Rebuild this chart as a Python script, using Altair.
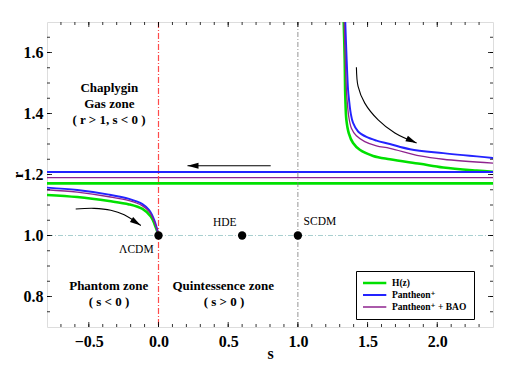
import altair as alt
import pandas as pd
import numpy as np

# ---------------- data ----------------
series_names = ["H(z)", "Pantheon⁺", "Pantheon⁺ + BAO"]
series_colors = ["#00e000", "#2323ff", "#8e238e"]
series_widths = [2.6, 1.3, 1.3]

# right branch (s > 1.3)
hz_right_s = [1.329, 1.336, 1.339, 1.341, 1.348, 1.365, 1.396, 1.444, 1.540, 1.660, 1.876, 2.043, 2.283, 2.406]
hz_right_r = [1.700, 1.576, 1.478, 1.445, 1.379, 1.336, 1.303, 1.281, 1.261, 1.250, 1.235, 1.223, 1.213, 1.209]
pp_right_s = [1.340, 1.350, 1.360, 1.367, 1.379, 1.396, 1.432, 1.492, 1.564, 1.660, 1.804, 2.043, 2.406]
pp_right_r = [1.700, 1.576, 1.478, 1.445, 1.401, 1.369, 1.341, 1.323, 1.311, 1.300, 1.283, 1.270, 1.254]
pb_right_s = [1.332, 1.340, 1.348, 1.353, 1.365, 1.384, 1.420, 1.480, 1.564, 1.660, 1.876, 2.043, 2.406]
pb_right_r = [1.700, 1.576, 1.478, 1.445, 1.390, 1.352, 1.327, 1.308, 1.294, 1.286, 1.261, 1.250, 1.237]

# left branch (s < 0)
hz_left_s = [-0.8, -0.583, -0.355, -0.211, -0.115, -0.055, -0.019, 0.0]
hz_left_r = [1.133, 1.126, 1.113, 1.102, 1.087, 1.062, 1.026, 1.0]
pp_left_s = [-0.8, -0.583, -0.355, -0.211, -0.115, -0.067, -0.031, -0.007, 0.0]
pp_left_r = [1.157, 1.149, 1.134, 1.120, 1.103, 1.083, 1.051, 1.015, 1.0]
pb_left_s = [-0.8, -0.583, -0.355, -0.211, -0.115, -0.067, -0.031, -0.007, 0.0]
pb_left_r = [1.150, 1.142, 1.127, 1.114, 1.097, 1.078, 1.047, 1.013, 1.0]

# constant (horizontal) branches
flat_s = [-0.8, 2.4]
hz_flat_r = 1.171
pp_flat_r = 1.208
pb_flat_r = 1.190

# fixed points
pt_s = [0.0, 0.6, 1.0]
pt_r = [1.0, 1.0, 1.0]
pt_names = ["ΛCDM", "HDE", "SCDM"]
pt_label_s = [-0.159, 0.475, 1.158]
pt_label_r = [0.951, 1.042, 1.043]

# zone annotations
zone_text = ["Chaplygin", "Gas zone", "( r > 1, s < 0 )", "Phantom zone", "( s < 0 )",
             "Quintessence zone", "( s > 0 )"]
zone_s = [-0.353, -0.353, -0.355, -0.357, -0.355, 0.464, 0.470]
zone_r = [1.485, 1.432, 1.379, 0.835, 0.782, 0.835, 0.782]

# arrows
arr_h_s = [0.805, 0.208]
arr_h_r = [1.2285, 1.2285]
arr_l_s = [-0.594, -0.462, -0.342, -0.246, -0.127]
arr_l_r = [1.087, 1.089, 1.083, 1.068, 1.033]
arr_r_s = [1.420, 1.432, 1.480, 1.576, 1.696, 1.852]
arr_r_r = [1.552, 1.489, 1.434, 1.379, 1.336, 1.303]

# axis ticks
x_major = [-0.5, 0.0, 0.5, 1.0, 1.5, 2.0]
y_major = [0.8, 1.0, 1.2, 1.4, 1.6]
x_minor = [round(v, 2) for v in np.arange(-0.7, 2.4, 0.1)]
y_minor = [round(v, 3) for v in np.arange(0.75, 1.7, 0.05)]

# ---------------- layout ----------------
W, H = 446, 305
XDOM, YDOM = [-0.8, 2.4], [0.7, 1.7]
SERIF = "Liberation Serif, Times New Roman, DejaVu Serif, serif"

rows = []
branches = [
    (series_names[0], "L", hz_left_s, hz_left_r),
    (series_names[1], "L", pp_left_s, pp_left_r),
    (series_names[2], "L", pb_left_s, pb_left_r),
    (series_names[0], "R", hz_right_s, hz_right_r),
    (series_names[1], "R", pp_right_s, pp_right_r),
    (series_names[2], "R", pb_right_s, pb_right_r),
    (series_names[0], "F", flat_s, [hz_flat_r] * 2),
    (series_names[1], "F", flat_s, [pp_flat_r] * 2),
    (series_names[2], "F", flat_s, [pb_flat_r] * 2),
]
for name, seg, ss, rr in branches:
    for i, (a, b) in enumerate(zip(ss, rr)):
        rows.append({"series": name, "seg": name + seg, "s": a, "r": b, "i": i})
lines_df = pd.DataFrame(rows)

xs = alt.Scale(domain=XDOM, nice=False, zero=False)
ys = alt.Scale(domain=YDOM, nice=False, zero=False)

leg = alt.Legend(
    orient="none", legendX=309, legendY=249, title=None,
    symbolType="stroke", symbolSize=1000, clipHeight=10, rowPadding=2,
    labelFont=SERIF, labelFontWeight="bold", labelFontSize=9.5, labelColor="black",
    labelOffset=4, strokeColor="black", fillColor="white", padding=7,
    symbolOffset=-10,
)

X = alt.X("s:Q", scale=xs, axis=alt.Axis(
    values=x_major, format=".1f", ticks=False, domain=False, grid=False,
    labelFont=SERIF, labelFontSize=16, labelFontWeight="bold", labelColor="black",
    labelPadding=6, labelFlush=False, title="s", titleFont=SERIF, titleFontSize=16,
    titleFontWeight="bold", titleColor="black", titleY=31, titleBaseline="alphabetic"))
Y = alt.Y("r:Q", scale=ys, axis=alt.Axis(
    values=y_major, format=".1f", ticks=False, domain=False, grid=False,
    labelFont=SERIF, labelFontSize=16, labelFontWeight="bold", labelColor="black",
    labelPadding=4, labelFlush=False, title="r", titleFont=SERIF, titleFontSize=15,
    titleFontWeight="bold", titleColor="black", titleX=-25, titleY=H / 2,
    titleAngle=270, titleAlign="center", titleBaseline="alphabetic"))

# reference lines
vref0 = alt.Chart(pd.DataFrame({"s": [0.0]})).mark_rule(
    color="#ff4a4a", strokeWidth=1.2, strokeDash=[6, 2, 1, 2]).encode(x=alt.X("s:Q", scale=xs))
vref1 = alt.Chart(pd.DataFrame({"s": [1.0]})).mark_rule(
    color="#7a7a7a", strokeWidth=0.8, strokeDash=[5, 2, 1, 2]).encode(x=alt.X("s:Q", scale=xs))
href1 = alt.Chart(pd.DataFrame({"r": [1.0]})).mark_rule(
    color="#a9cfcf", strokeWidth=1.0, strokeDash=[5, 2, 1, 2]).encode(y=alt.Y("r:Q", scale=ys))

base_lines = alt.Chart(lines_df).mark_line(interpolate="catmull-rom", clip=True).encode(
    x=X, y=Y,
    color=alt.Color("series:N", scale=alt.Scale(domain=series_names, range=series_colors), legend=leg),
    strokeWidth=alt.StrokeWidth("series:N", scale=alt.Scale(domain=series_names, range=series_widths), legend=leg),
    detail="seg:N",
    order="i:Q",
)

points = alt.Chart(pd.DataFrame({"s": pt_s, "r": pt_r})).mark_point(
    filled=True, color="black", opacity=1, size=70).encode(
    x=alt.X("s:Q", scale=xs), y=alt.Y("r:Q", scale=ys))

pt_labels = alt.Chart(pd.DataFrame({"s": pt_label_s, "r": pt_label_r, "t": pt_names})).mark_text(
    font=SERIF, fontSize=11.5, color="black", align="center", baseline="middle").encode(
    x=alt.X("s:Q", scale=xs), y=alt.Y("r:Q", scale=ys), text="t:N")

zones = alt.Chart(pd.DataFrame({"s": zone_s, "r": zone_r, "t": zone_text})).mark_text(
    font=SERIF, fontSize=13, fontWeight="bold", color="black", align="center",
    baseline="middle").encode(
    x=alt.X("s:Q", scale=xs), y=alt.Y("r:Q", scale=ys), text="t:N")

# arrows
px_per_s = W / (XDOM[1] - XDOM[0])
px_per_r = H / (YDOM[1] - YDOM[0])


def head_angle(ss, rr):
    dx = (ss[-1] - ss[-2]) * px_per_s
    dy = -(rr[-1] - rr[-2]) * px_per_r
    return float(np.degrees(np.arctan2(dy, dx)) % 360)


HEAD = "M0,0 L-2,-0.55 L-2,0.55 Z"
arrow_layers = []
for ss, rr, interp in [(arr_h_s, arr_h_r, "linear"), (arr_l_s, arr_l_r, "catmull-rom"),
                       (arr_r_s, arr_r_r, "catmull-rom")]:
    df = pd.DataFrame({"s": ss, "r": rr, "i": list(range(len(ss)))})
    shaft = alt.Chart(df).mark_line(color="black", strokeWidth=1.1, interpolate=interp).encode(
        x=alt.X("s:Q", scale=xs), y=alt.Y("r:Q", scale=ys), order="i:Q")
    tip = alt.Chart(df.tail(1)).mark_point(
        shape=HEAD, filled=True, color="black", opacity=1, size=121,
        angle=head_angle(ss, rr)).encode(
        x=alt.X("s:Q", scale=xs), y=alt.Y("r:Q", scale=ys))
    arrow_layers += [shaft, tip]

# inward ticks on all four sides
xmaj = pd.DataFrame({"s": x_major})
xmin = pd.DataFrame({"s": x_minor})
ymaj = pd.DataFrame({"r": y_major})
ymin = pd.DataFrame({"r": y_minor})
tick_layers = []
for df, ln in [(xmaj, 5), (xmin, 3)]:
    tick_layers.append(alt.Chart(df).mark_rule(color="black", strokeWidth=0.8).encode(
        x=alt.X("s:Q", scale=xs), y=alt.value(H), y2=alt.value(H - ln)))
    tick_layers.append(alt.Chart(df).mark_rule(color="black", strokeWidth=0.8).encode(
        x=alt.X("s:Q", scale=xs), y=alt.value(0), y2=alt.value(ln)))
for df, ln in [(ymaj, 5), (ymin, 3)]:
    tick_layers.append(alt.Chart(df).mark_rule(color="black", strokeWidth=0.8).encode(
        y=alt.Y("r:Q", scale=ys), x=alt.value(0), x2=alt.value(ln)))
    tick_layers.append(alt.Chart(df).mark_rule(color="black", strokeWidth=0.8).encode(
        y=alt.Y("r:Q", scale=ys), x=alt.value(W), x2=alt.value(W - ln)))

chart = alt.layer(
    base_lines, vref0, vref1, href1, *tick_layers, points, pt_labels, zones, *arrow_layers
).properties(
    width=W, height=H,
    autosize=alt.AutoSizeParams(type="none"),
    padding={"left": 39, "top": 14, "right": 17, "bottom": 34},
).configure_view(
    stroke="black", strokeWidth=1.4
).configure(background="white")

chart.save("out.html", embed_options={"renderer": "svg", "actions": False})
